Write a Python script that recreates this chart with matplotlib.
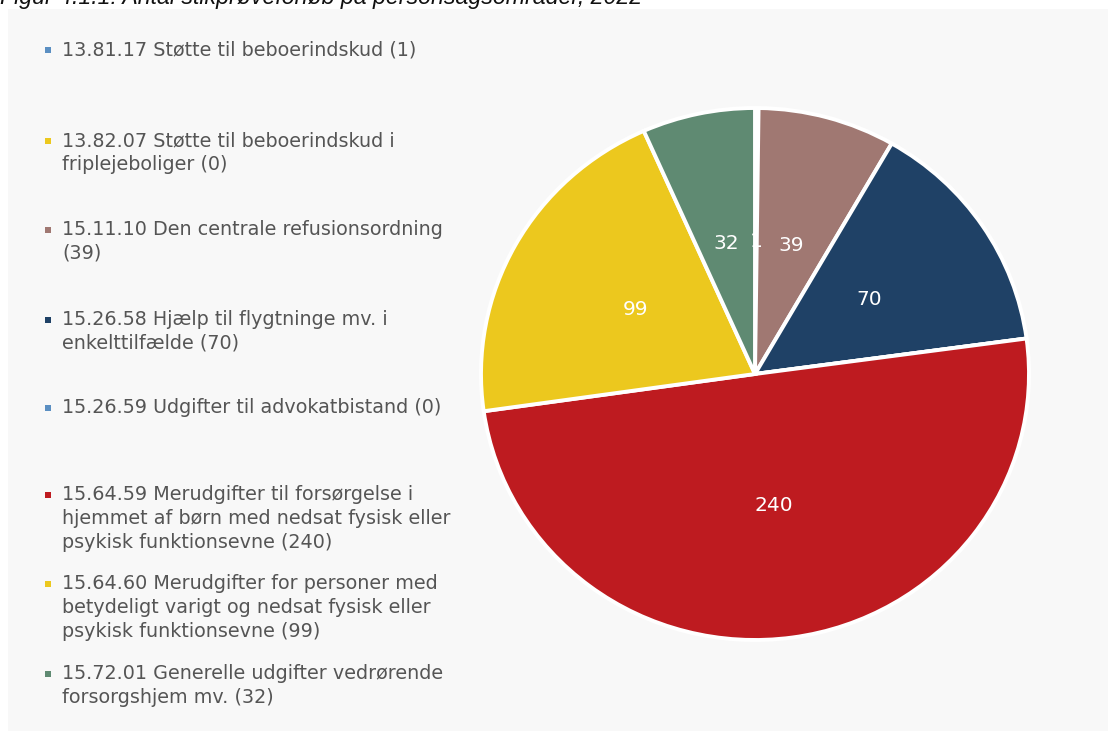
import matplotlib.pyplot as plt
from matplotlib.patches import Rectangle

plt.rcParams['font.family'] = ['DejaVu Sans']

# Data
labels = [
    "13.81.17 Støtte til beboerindskud (1)",
    "13.82.07 Støtte til beboerindskud i\nfriplejeboliger (0)",
    "15.11.10 Den centrale refusionsordning\n(39)",
    "15.26.58 Hjælp til flygtninge mv. i\nenkelttilfælde (70)",
    "15.26.59 Udgifter til advokatbistand (0)",
    "15.64.59 Merudgifter til forsørgelse i\nhjemmet af børn med nedsat fysisk eller\npsykisk funktionsevne (240)",
    "15.64.60 Merudgifter for personer med\nbetydeligt varigt og nedsat fysisk eller\npsykisk funktionsevne (99)",
    "15.72.01 Generelle udgifter vedrørende\nforsorgshjem mv. (32)",
]
values = [1, 0, 39, 70, 0, 240, 99, 32]
colors = ["#5b8fc2", "#ecc81e", "#a07872", "#1f4166", "#5b8fc2", "#be1b20", "#ecc81e", "#5f8a72"]
legend_y = [50, 141, 230, 320, 408, 495, 584, 674]  # pixel y of first line

W, H = 1108, 731
fig = plt.figure(figsize=(W / 100, H / 100), dpi=100)
fig.patch.set_facecolor("white")

# light grey panel
bg = fig.add_axes([8 / W, 0, 1 - 8 / W, 1 - 9 / H], zorder=0)
bg.set_facecolor("#f8f8f8")
bg.set_xticks([])
bg.set_yticks([])
for s in bg.spines.values():
    s.set_visible(False)

# title (partly cut off at the top, as in the source)
fig.text(0 / W, 1 - 4 / H, "Figur 4.1.1: Antal stikprøveforløb på personsagsområder, 2022",
         fontsize=16.7, style="italic", color="#111111", va="baseline", ha="left",
         family="Liberation Sans")

# pie (slightly wider than tall, as in the source)
cx, cy, rx, ry = 755, 374, 274, 266
ax = fig.add_axes([(cx - rx) / W, 1 - (cy + ry) / H, 2 * rx / W, 2 * ry / H], zorder=2)
total = sum(values)


def fmt(pct):
    v = int(round(pct * total / 100))
    return str(v) if v > 0 else ""


wedges, texts, autotexts = ax.pie(
    values, colors=colors, startangle=90, counterclock=False,
    autopct=fmt, pctdistance=0.5,
    wedgeprops=dict(edgecolor="white", linewidth=2.8),
    textprops=dict(color="white", fontsize=14.5),
)
ax.set_xlim(-1, 1)
ax.set_ylim(-1, 1)
ax.set_aspect("auto")
ax.axis("off")

# legend
for lab, col, y in zip(labels, colors, legend_y):
    fig.patches.append(Rectangle((45 / W, 1 - (y + 3) / H), 6 / W, 6 / H,
                                 transform=fig.transFigure, facecolor=col, edgecolor="none",
                                 zorder=3))
    fig.text(62 / W, 1 - (y - 10) / H, lab, fontsize=13.8, color="#555555",
             va="top", ha="left", linespacing=1.32, zorder=3)

fig.savefig("out.png", dpi=100, facecolor=fig.get_facecolor())
